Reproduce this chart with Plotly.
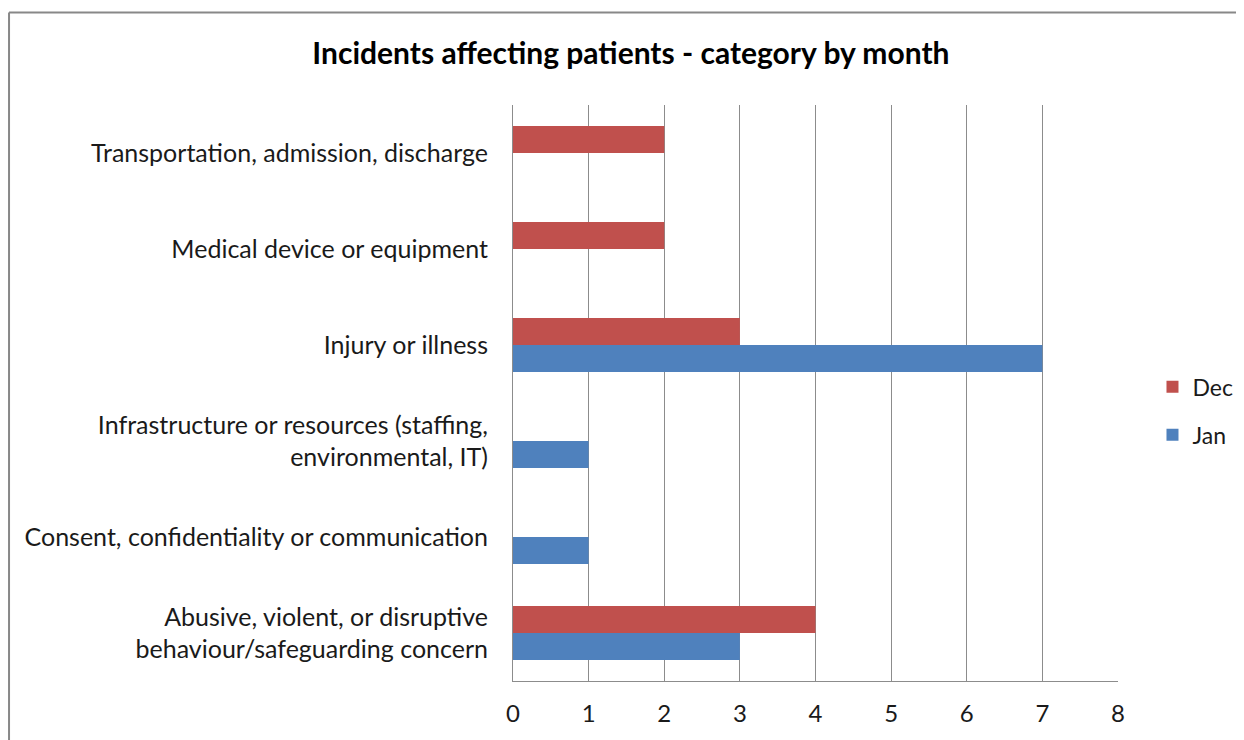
import plotly.graph_objects as go

categories = [
    "Abusive, violent, or disruptive<br>behaviour/safeguarding concern",
    "Consent, confidentiality or communication",
    "Infrastructure or resources (staffing,<br>environmental, IT)",
    "Injury or illness",
    "Medical device or equipment",
    "Transportation, admission, discharge",
]
dec_values = [4, 0, 0, 3, 2, 2]
jan_values = [3, 1, 1, 7, 0, 0]
x_ticks = [0, 1, 2, 3, 4, 5, 6, 7, 8]

font_family = "Lato, 'Open Sans', sans-serif"
grid_col = "#8c8c8c"

fig = go.Figure()
fig.add_trace(go.Bar(y=categories, x=jan_values, name="Jan", orientation="h",
                     marker=dict(color="#4F81BD", line_width=0),
                     legendgroup="jan", legendrank=2))
fig.add_trace(go.Bar(y=categories, x=dec_values, name="Dec", orientation="h",
                     marker=dict(color="#C0504D", line_width=0),
                     legendgroup="dec", legendrank=1))

# chart frame (left + top edges visible in the reference)
fig.add_shape(type="line", xref="paper", yref="paper", x0=-0.833, x1=-0.833,
              y0=-0.2, y1=1.1606, line=dict(color="#888888", width=2))
fig.add_shape(type="line", xref="paper", yref="paper", x0=-0.833, x1=1.3,
              y0=1.1606, y1=1.1606, line=dict(color="#888888", width=2))

# page has an 8px body margin, so the figure is 8px smaller than the window
fig.update_layout(
    width=1236, height=732,
    margin=dict(l=505, r=126, t=97, b=59, autoexpand=False),
    paper_bgcolor="white", plot_bgcolor="white",
    font=dict(family=font_family, size=25, color="#1a1a1a"),
    title=dict(text="<b>Incidents affecting patients - category by month</b>",
               x=0.504, xanchor="center", y=1 - 45 / 732, yanchor="middle",
               font=dict(size=30, color="#000000")),
    barmode="group", bargap=0.44, bargroupgap=0,
    showlegend=True,
    legend=dict(x=1.057, y=0.469, xanchor="left", yanchor="middle",
                traceorder="grouped", tracegroupgap=15,
                font=dict(size=23), itemwidth=30),
    xaxis=dict(range=[0, 8], tickvals=x_ticks, showgrid=True, gridcolor=grid_col,
               gridwidth=1, showline=True, linecolor=grid_col, linewidth=1,
               zeroline=False, ticks="", ticklabelstandoff=11,
               tickfont=dict(size=24)),
    yaxis=dict(categoryorder="array", categoryarray=categories, showgrid=False,
               showline=True, linecolor=grid_col, linewidth=1, ticks="",
               ticklabelstandoff=19, tickfont=dict(size=25)),
)

fig.write_html("out.html")
